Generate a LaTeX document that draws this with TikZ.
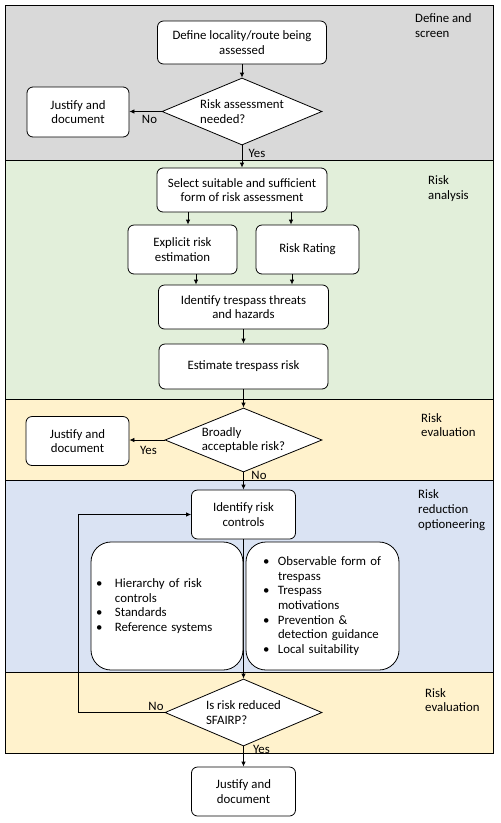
\documentclass[tikz,border=0pt]{standalone}
\usepackage{fontspec}
\setmainfont{Carlito}
\usetikzlibrary{shapes.geometric,arrows.meta}
\newcommand\fsz{\fontsize{12.8}{14.7}\selectfont}
\newcommand\bulA[1]{\hspace*{5pt}\makebox[19pt][l]{\textbullet}#1}
\newcommand\conA[1]{\hspace*{24pt}#1}
\newcommand\bulB[1]{\hspace*{17pt}\makebox[15pt][l]{\textbullet}#1}
\newcommand\conB[1]{\hspace*{32pt}#1}
\definecolor{bandgray}{HTML}{D9D9D9}
\definecolor{bandgreen}{HTML}{E2EFDA}
\definecolor{bandyellow}{HTML}{FFF2CC}
\definecolor{bandblue}{HTML}{DAE3F3}
\begin{document}
\begin{tikzpicture}[x=1pt,y=-1pt,
  box/.style={draw, line width=0.8pt, rounded corners=6pt, fill=white, align=center, inner sep=2pt, font=\fsz},
  bigbox/.style={draw, line width=0.8pt, rounded corners=20pt, fill=white, align=left, inner xsep=0pt, inner ysep=2pt, font=\fsz},
  dia/.style={draw, line width=0.8pt, diamond, aspect=2.4, fill=white, inner sep=0pt, align=left, font=\fsz},
  band/.style={draw, line width=0.8pt},
  bandlbl/.style={anchor=west, align=left, inner sep=0pt, font=\fsz},
  lbl/.style={inner sep=0pt, font=\fsz},
  arr/.style={-{Latex[length=5pt,width=4.5pt]}, line width=0.8pt},
  conn/.style={line width=0.8pt}]
\useasboundingbox (0,0) rectangle (501,823);
% bands
\draw[band, fill=bandgray]   (5,5)   rectangle (493,160);
\draw[band, fill=bandgreen]  (5,160) rectangle (493,399);
\draw[band, fill=bandyellow] (5,399) rectangle (493,480);
\draw[band, fill=bandblue]   (5,480) rectangle (493,672);
\draw[band, fill=bandyellow] (5,672) rectangle (493,753);
% band labels
\node[bandlbl] (L1) at (415,25.5) {Define and\\screen};
\node[bandlbl] (L2) at (428,188.5) {Risk\\analysis};
\node[bandlbl] (L3) at (421,425) {Risk\\evaluation};
\node[bandlbl] (L4) at (418,510) {Risk\\reduction\\optioneering};
\node[bandlbl] (L5) at (425,700) {Risk\\evaluation};
% coordinates for connector x positions
\coordinate (xa) at (188,0);
\coordinate (xb) at (291,0);
\coordinate (xc) at (196,0);
\coordinate (xd) at (292,0);
\coordinate (lp) at (78,712.5);
% connector behind big boxes
\node[box, minimum width=104, minimum height=49] (irc) at (243.5,514.5) {Identify risk\\controls};
\node[dia, minimum width=157, minimum height=67] (d3) at (243.5,712.5) {Is risk reduced\\SFAIRP?};
\draw[arr] (irc.south) -- (d3.north);
% nodes
\node[box, minimum width=169, minimum height=43] (def) at (242,42.5) {Define locality/route being\\assessed};
\node[dia, minimum width=160, minimum height=67] (d1) at (242,111.5) {Risk assessment\\needed?};
\node[box, minimum width=102, minimum height=50] (j1) at (78,112) {Justify and\\document};
\node[box, minimum width=170, minimum height=44] (sel) at (242,190) {Select suitable and sufficient\\form of risk assessment};
\node[box, minimum width=109, minimum height=49] (expl) at (182.5,249.5) {Explicit risk\\estimation};
\node[box, minimum width=103, minimum height=49] (rr) at (307.5,249.5) {Risk Rating};
\node[box, minimum width=170, minimum height=44] (idt) at (243.5,307) {Identify trespass threats\\and hazards};
\node[box, minimum width=169, minimum height=45] (est) at (243.5,366.5) {Estimate trespass risk};
\node[dia, minimum width=157, minimum height=64] (d2) at (243.5,440) {Broadly\\acceptable risk?};
\node[box, minimum width=103, minimum height=49] (j2) at (77.5,441) {Justify and\\document};
\node[bigbox, text width=152, minimum height=128] (bl) at (167,606)
  {\bulA{Hierarchy of risk}\\\conA{controls}\\\bulA{Standards}\\\bulA{Reference systems}};
\node[bigbox, text width=153, minimum height=128] (br) at (322.5,606)
  {\bulB{Observable form of}\\\conB{trespass}\\\bulB{Trespass}\\\conB{motivations}\\\bulB{Prevention \&}\\\conB{detection guidance}\\\bulB{Local suitability}};
\node[box, minimum width=104, minimum height=49] (j3) at (243.5,791.5) {Justify and\\document};
% connectors
\draw[arr] (def.south) -- (d1.north);
\draw[arr] (d1.west) -- (d1.west -| j1.east);
\draw[arr] (d1.south) -- (sel.north);
\draw[arr] (sel.south -| xa) -- (expl.north -| xa);
\draw[arr] (sel.south -| xb) -- (rr.north -| xb);
\draw[arr] (expl.south -| xc) -- (idt.north -| xc);
\draw[arr] (rr.south -| xd) -- (idt.north -| xd);
\draw[arr] (idt.south) -- (est.north);
\draw[arr] (est.south) -- (d2.north);
\draw[arr] (d2.west) -- (d2.west -| j2.east);
\draw[arr] (d2.south) -- (irc.north);
\draw[arr] (d3.west) -- (lp) |- (irc.west);
\draw[arr] (d3.south) -- (j3.north);
% connector labels
\node[lbl] (n1) at (149.5,119) {No};
\node[lbl] (y1) at (257,153) {Yes};
\node[lbl] (y2) at (148.5,450) {Yes};
\node[lbl] (n2) at (259,475) {No};
\node[lbl] (n3) at (156,706) {No};
\node[lbl] (y3) at (261.5,749) {Yes};
\end{tikzpicture}
\end{document}
